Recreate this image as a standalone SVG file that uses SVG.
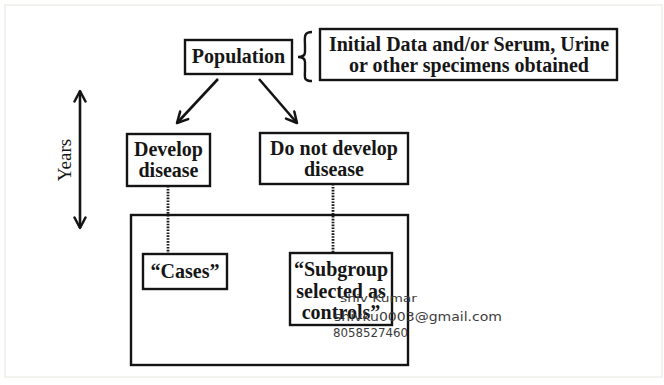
<svg xmlns="http://www.w3.org/2000/svg" width="664" height="385" viewBox="0 0 664 385">
  <style>
    .box { fill: #ffffff; stroke: #141414; stroke-width: 2.4; }
    .lbl { font-family: "Liberation Serif", "Times New Roman", serif; font-weight: bold; font-size: 20px; fill: #161616; text-anchor: middle; }
    .arrow { fill: none; stroke: #141414; stroke-width: 2.6; }
    .dots { fill: none; stroke: #1a1a1a; stroke-width: 2.8; stroke-dasharray: 1.6 1.3; }
    .wm { font-family: "DejaVu Sans", "Liberation Sans", sans-serif; fill: #3c3c3c; }
  </style>
  <defs>
    <marker id="head" viewBox="0 0 14 14" refX="12" refY="7" markerWidth="14" markerHeight="14" markerUnits="userSpaceOnUse" orient="auto-start-reverse">
      <path d="M1.5,1.5 L12,7 L1.5,12.5" fill="none" stroke="#141414" stroke-width="2.5" stroke-linecap="round" stroke-linejoin="round"/>
    </marker>
  </defs>

  <!-- page -->
  <rect x="0" y="0" width="664" height="385" fill="#ffffff"/>
  <rect x="5" y="5" width="657" height="372" fill="none" stroke="#e8ebe4" stroke-width="1.2"/>

  <!-- connectors -->
  <g id="connectors">
    <line class="arrow" x1="218" y1="79" x2="177" y2="123" marker-end="url(#head)"/>
    <line class="arrow" x1="259" y1="79" x2="297" y2="123" marker-end="url(#head)"/>
    <line class="dots" x1="168" y1="186" x2="168" y2="253"/>
    <line class="dots" x1="333" y1="184" x2="333" y2="252"/>
  </g>

  <!-- time axis -->
  <g id="years">
    <line class="arrow" x1="80" y1="91" x2="80" y2="228" marker-start="url(#head)" marker-end="url(#head)"/>
    <text class="lbl" transform="translate(71 160) rotate(-90)" style="font-weight:normal;font-size:19px">Years</text>
  </g>

  <g id="population">
    <rect class="box" x="185" y="40" width="107" height="34"/>
    <text class="lbl" x="238.5" y="63">Population</text>
  </g>

  <g id="brace">
    <path d="M312,32 C303,32 305,38 305,46 L305,52 C305,56 302,57 298,57 C302,57 305,58 305,62 L305,70 C305,77 303,81 312,81" fill="none" stroke="#141414" stroke-width="2.4"/>
  </g>

  <g id="specimens">
    <rect class="box" x="320" y="29" width="297" height="51"/>
    <text class="lbl" x="469" y="51">Initial Data and/or Serum, Urine</text>
    <text class="lbl" x="469" y="72">or other specimens obtained</text>
  </g>

  <g id="develop">
    <rect class="box" x="127" y="134" width="83" height="52"/>
    <text class="lbl" x="168.5" y="156">Develop</text>
    <text class="lbl" x="168.5" y="177">disease</text>
  </g>

  <g id="no-develop">
    <rect class="box" x="260" y="133" width="148" height="51"/>
    <text class="lbl" x="334" y="155">Do not develop</text>
    <text class="lbl" x="334" y="176">disease</text>
  </g>

  <g id="study-group">
    <rect class="box" x="131" y="215" width="277" height="150" style="fill:none"/>
  </g>

  <g id="cases">
    <rect class="box" x="143" y="254" width="84" height="35"/>
    <text class="lbl" x="185" y="278">“Cases”</text>
  </g>

  <g id="controls">
    <rect class="box" x="290" y="253" width="102" height="72"/>
    <text class="lbl" x="341" y="276">“Subgroup</text>
    <text class="lbl" x="341" y="298">selected as</text>
    <text class="lbl" x="341" y="319">controls”</text>
  </g>

  <!-- contact stamp, printed over the controls box -->
  <g id="stamp">
    <text class="wm" x="340" y="302" font-size="11" textLength="77" lengthAdjust="spacingAndGlyphs">shiv Kumar</text>
    <text class="wm" x="334" y="321" font-size="13" textLength="168" lengthAdjust="spacingAndGlyphs">shivku0003@gmail.com</text>
    <text class="wm" x="333" y="337" font-size="12.5" textLength="75" lengthAdjust="spacingAndGlyphs">8058527460</text>
  </g>
</svg>
